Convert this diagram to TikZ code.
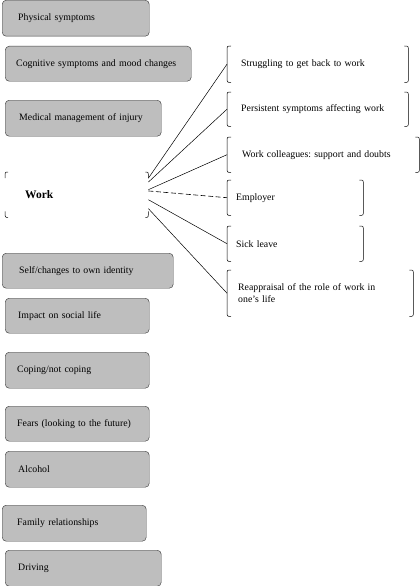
\documentclass[tikz,border=0pt]{standalone}
\usepackage{fontspec}
\setmainfont{Liberation Serif}
\frenchspacing
\definecolor{boxgray}{RGB}{190,190,190}
\tikzset{
  gbox/.style={draw=black!75, line width=0.45pt, fill=boxgray, rounded corners=4pt,
    anchor=north west, inner ysep=0pt, align=left, font=\fontsize{9.8}{12}\selectfont},
  tbox/.style={draw=none, anchor=north west, inner ysep=0pt, align=left,
    font=\fontsize{9.8}{12}\selectfont},
  brk/.style={draw=black, line width=0.5pt},
  conn/.style={draw=black, line width=0.5pt},
  dconn/.style={draw=black, line width=0.6pt, dash pattern=on 5pt off 2.5pt}
}
\newcommand\brackets[1]{%
  \draw[brk] ([xshift=4pt]#1.north west) .. controls (#1.north west) .. ([yshift=-5pt]#1.north west)
    -- ([yshift=5pt]#1.south west) .. controls (#1.south west) .. ([xshift=4pt]#1.south west);
  \draw[brk] ([xshift=-4pt]#1.north east) .. controls (#1.north east) .. ([yshift=-5pt]#1.north east)
    -- ([yshift=5pt]#1.south east) .. controls (#1.south east) .. ([xshift=-4pt]#1.south east);}
\newcommand\corners[1]{%
  \draw[brk] ([yshift=-6pt]#1.north west) .. controls (#1.north west) .. ([xshift=3pt]#1.north west);
  \draw[brk] ([yshift=-6pt]#1.north east) .. controls (#1.north east) .. ([xshift=-3pt]#1.north east);
  \draw[brk] ([yshift=6pt]#1.south west) .. controls (#1.south west) .. ([xshift=3pt]#1.south west);
  \draw[brk] ([yshift=6pt]#1.south east) .. controls (#1.south east) .. ([xshift=-3pt]#1.south east);}
\begin{document}
\begin{tikzpicture}[x=1pt,y=-1pt]
\useasboundingbox (0,0) rectangle (420,586);
% left grey boxes
\node[gbox, minimum width=147pt, minimum height=36pt, inner xsep=16pt, text width=115pt] (phys) at (2,0) {Physical symptoms};
\node[gbox, minimum width=186pt, minimum height=35pt, inner xsep=11pt, text width=164pt] (cog) at (5,46) {Cognitive symptoms and mood changes};
\node[gbox, minimum width=156pt, minimum height=36pt, inner xsep=14pt, text width=128pt] (med) at (5,100) {Medical management of injury};
\node[gbox, minimum width=171pt, minimum height=35pt, inner xsep=17pt, text width=137pt] (self) at (2,253) {Self/changes to own identity};
\node[gbox, minimum width=144pt, minimum height=35pt, inner xsep=13pt, text width=118pt] (impact) at (5,298) {Impact on social life};
\node[gbox, minimum width=144pt, minimum height=36pt, inner xsep=12pt, text width=120pt] (coping) at (5,352) {Coping/not coping};
\node[gbox, minimum width=144pt, minimum height=35pt, inner xsep=12pt, text width=120pt] (fears) at (5,406) {Fears (looking to the future)};
\node[gbox, minimum width=144pt, minimum height=36pt, inner xsep=13pt, text width=118pt] (alcohol) at (5,451) {Alcohol};
\node[gbox, minimum width=144pt, minimum height=36pt, inner xsep=15pt, text width=114pt] (family) at (2,505) {Family relationships};
\node[gbox, minimum width=156pt, minimum height=36pt, inner xsep=13pt, text width=130pt] (driving) at (5,550) {Driving};
% work box
\node[tbox, minimum width=143pt, minimum height=45pt, inner xsep=20pt, text width=103pt,
  font=\fontsize{11.5}{13}\selectfont\bfseries] (work) at (5,172) {Work};
\corners{work}
% right boxes
\node[tbox, minimum width=181pt, minimum height=36pt, inner xsep=14pt, text width=153pt] (strug) at (227,46) {Struggling to get back to work};
\node[tbox, minimum width=181pt, minimum height=34pt, inner xsep=14pt, text width=153pt] (pers) at (227,92) {Persistent symptoms affecting work};
\node[tbox, minimum width=192pt, minimum height=35pt, inner xsep=15pt, text width=162pt] (coll) at (227,137) {Work colleagues: support and doubts};
\node[tbox, minimum width=136pt, minimum height=35pt, inner xsep=9pt, text width=118pt] (empl) at (227,180) {Employer};
\node[tbox, minimum width=136pt, minimum height=35pt, inner xsep=9pt, text width=118pt] (sick) at (227,226) {Sick leave};
\node[tbox, minimum width=186pt, minimum height=46pt, inner xsep=11pt, text width=164pt] (reap) at (227,270) {Reappraisal of the role of work in\\one’s life};
\foreach \n in {strug,pers,coll,empl,sick,reap} {\brackets{\n}}
% connectors
\draw[conn] (work.13) -- (strug.west);
\draw[conn] (work.10) -- (pers.west);
\draw[conn] (work.4) -- (coll.west);
\draw[dconn] (work.3) -- (empl.west);
\draw[conn] (work.-4) -- (sick.west);
\draw[conn] (work.-11) -- (reap.west);
\end{tikzpicture}
\end{document}
